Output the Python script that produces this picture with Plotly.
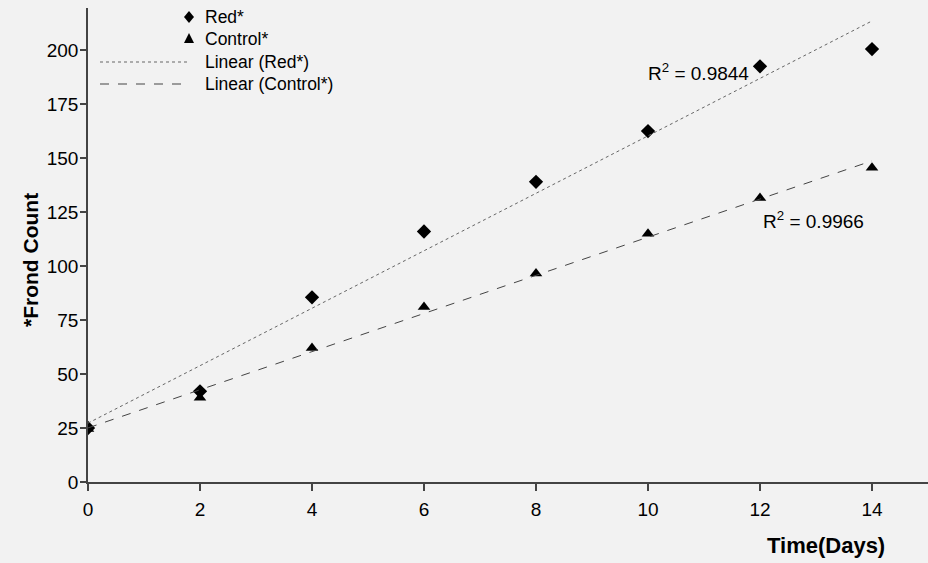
import numpy as np
import plotly.graph_objects as go

# ---- data ----
days = [0, 2, 4, 6, 8, 10, 12, 14]
red_counts = [25, 42, 85.5, 116, 139, 162.5, 192.5, 200.5]
control_counts = [24.5, 39, 62, 81, 96.5, 115, 131.5, 145.5]
x_ticks = [0, 2, 4, 6, 8, 10, 12, 14]
y_ticks = [0, 25, 50, 75, 100, 125, 150, 175, 200]
series_names = ["Red*", "Control*", "Linear (Red*)", "Linear (Control*)"]
r2_red_label = "R<sup>2</sup> = 0.9844"
r2_control_label = "R<sup>2</sup> = 0.9966"

FONT = "Liberation Sans, Arial, sans-serif"
INK = "#000000"
AXIS = "#444444"
BG = "#f2f2f2"

# plot-area geometry in pixels (used to place the hand-drawn legend)
L, R, T, B = 88, 928, 8, 482
def px(xp):
    return (xp - L) / (R - L)
def py(yp):
    return (B - yp) / (B - T)

# linear trendlines computed from the data
x_fit = np.array([days[0], days[-1]], dtype=float)
red_coef = np.polyfit(days, red_counts, 1)
ctl_coef = np.polyfit(days, control_counts, 1)

fig = go.Figure()

fig.add_trace(go.Scatter(
    x=days, y=red_counts, mode="markers", name=series_names[0], showlegend=False,
    marker=dict(symbol="diamond", size=11, color=INK),
))
fig.add_trace(go.Scatter(
    x=days, y=control_counts, mode="markers", name=series_names[1], showlegend=False,
    marker=dict(symbol="triangle-up", size=11, color=INK),
))
fig.add_trace(go.Scatter(
    x=x_fit, y=np.polyval(red_coef, x_fit), mode="lines", name=series_names[2], showlegend=False,
    line=dict(color="#666666", width=1, dash="dot"),
))
fig.add_trace(go.Scatter(
    x=x_fit, y=np.polyval(ctl_coef, x_fit), mode="lines", name=series_names[3], showlegend=False,
    line=dict(color=AXIS, width=1, dash="dash"),
))

# R² labels
fig.add_annotation(x=10.9, y=189.8, text=r2_red_label, showarrow=False,
                   xanchor="center", yanchor="middle",
                   font=dict(family=FONT, size=19, color=INK))
fig.add_annotation(x=12.96, y=121.3, text=r2_control_label, showarrow=False,
                   xanchor="center", yanchor="middle",
                   font=dict(family=FONT, size=19, color=INK))

# ---- legend (drawn by hand to match the Excel-style layout) ----
legend_rows = [17, 39, 62, 84]
for name, yy in zip(series_names, legend_rows):
    fig.add_annotation(xref="paper", yref="paper", x=px(203), y=py(yy), text=name,
                       showarrow=False, xanchor="left", yanchor="middle",
                       font=dict(family=FONT, size=17.5, color=INK))
# marker glyphs
fig.add_shape(type="path", xref="paper", yref="paper", xsizemode="pixel", ysizemode="pixel",
              xanchor=px(189), yanchor=py(legend_rows[0]),
              path="M0,6 L5,0 L0,-6 L-5,0 Z", fillcolor=INK, line=dict(width=0))
fig.add_shape(type="path", xref="paper", yref="paper", xsizemode="pixel", ysizemode="pixel",
              xanchor=px(189), yanchor=py(legend_rows[1]),
              path="M-5,-4 L5,-4 L0,6 Z", fillcolor=INK, line=dict(width=0))
# line samples
fig.add_shape(type="line", xref="paper", yref="paper",
              x0=px(100), x1=px(187), y0=py(legend_rows[2]), y1=py(legend_rows[2]),
              line=dict(color="#666666", width=1, dash="dot"))
fig.add_shape(type="line", xref="paper", yref="paper",
              x0=px(100), x1=px(187), y0=py(legend_rows[3]), y1=py(legend_rows[3]),
              line=dict(color=AXIS, width=1, dash="dash"))

# axis titles
fig.add_annotation(xref="paper", yref="paper", x=px(826), y=py(545),
                   text="<b>Time(Days)</b>", showarrow=False,
                   xanchor="center", yanchor="middle",
                   font=dict(family=FONT, size=22, color=INK))
fig.add_annotation(xref="paper", yref="paper", x=px(30), y=py(260),
                   text="<b>*Frond Count</b>", showarrow=False, textangle=-90,
                   xanchor="center", yanchor="middle",
                   font=dict(family=FONT, size=21, color=INK))

fig.update_layout(
    width=928, height=563,
    margin=dict(l=L, r=928 - R, t=T, b=563 - B),
    paper_bgcolor=BG, plot_bgcolor=BG,
    font=dict(family=FONT, size=19, color=INK),
    showlegend=False,
    xaxis=dict(
        range=[0, 15], tickvals=x_ticks, ticktext=[str(v) for v in x_ticks],
        showgrid=False, zeroline=False, showline=True, linecolor=AXIS, linewidth=1.5,
        ticks="outside", ticklen=7, tickcolor=AXIS, tickwidth=1.5, ticklabelstandoff=2,
        tickfont=dict(family=FONT, size=19, color=INK),
    ),
    yaxis=dict(
        range=[0, 219.5], tickvals=y_ticks, ticktext=[str(v) for v in y_ticks],
        showgrid=False, zeroline=False, showline=True, linecolor=AXIS, linewidth=1.5,
        ticks="outside", ticklen=6, tickcolor=AXIS, tickwidth=1.5, ticklabelstandoff=-2,
        tickfont=dict(family=FONT, size=19, color=INK),
    ),
)

fig.write_html("out.html", config={"displayModeBar": False},
               post_script="document.body.style.margin='0';")
